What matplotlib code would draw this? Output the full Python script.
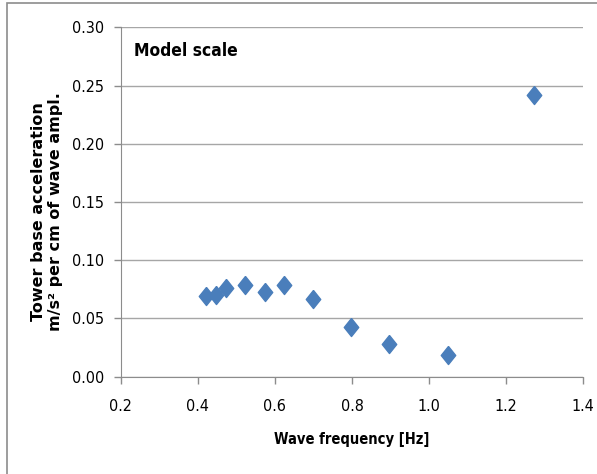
import matplotlib
matplotlib.use("Agg")
import matplotlib.pyplot as plt
from matplotlib.patches import Rectangle

# wave frequency [Hz] vs tower base acceleration per cm wave amplitude
freq = [0.421, 0.447, 0.473, 0.523, 0.574, 0.623, 0.698, 0.797, 0.897, 1.048, 1.272]
accel = [0.069, 0.070, 0.076, 0.079, 0.073, 0.079, 0.067, 0.043, 0.028, 0.019, 0.242]

x_ticks = [0.2, 0.4, 0.6, 0.8, 1.0, 1.2, 1.4]
y_ticks = [0.00, 0.05, 0.10, 0.15, 0.20, 0.25, 0.30]

plt.rcParams['font.family'] = ['DejaVu Sans']
plt.rcParams['font.stretch'] = 'condensed'

fig = plt.figure(figsize=(5.97, 4.74), dpi=100)
ax = fig.add_axes([0.2022, 0.2053, 0.7748, 0.7371])

# outer chart frame (cut off at right and bottom)
fig.patches.append(Rectangle((0.0117, -0.1), 2, 0.9937 + 0.1, transform=fig.transFigure,
                             fill=False, edgecolor='#8c8c8c', linewidth=1.2))

diamond = [(0, 1), (0.8, 0), (0, -1), (-0.8, 0), (0, 1)]
ax.plot(freq, accel, linestyle='none', marker=diamond, markersize=13,
        color='#4a7ebb', markeredgecolor='#4a7ebb')

ax.set_xlim(0.2, 1.4)
ax.set_ylim(0, 0.30)
ax.set_xticks(x_ticks)
ax.set_yticks(y_ticks)
ax.set_xticklabels([f"{v:.1f}" for v in x_ticks])
ax.set_yticklabels([f"{v:.2f}" for v in y_ticks])
ax.tick_params(axis='both', colors='#8c8c8c', labelcolor='black', labelsize=11.5,
               length=5, width=1)
ax.tick_params(axis='x', pad=11)
ax.tick_params(axis='y', pad=7)

ax.grid(True, axis='y', color='#a6a6a6', linewidth=1)
ax.set_axisbelow(True)
for s in ['top', 'right']:
    ax.spines[s].set_visible(False)
for s in ['left', 'bottom']:
    ax.spines[s].set_color('#8c8c8c')

ax.set_xlabel('Wave frequency [Hz]', fontsize=10.5, fontweight='bold', labelpad=13)
fig.text(47 / 597, 1 - 212 / 474, 'Tower base acceleration\nm/s² per cm of wave ampl.',
         rotation=90, ha='center', va='center', fontsize=11.5, fontweight='bold',
         stretch='normal', linespacing=1.1)

ax.text(0.029, 0.931, 'Model scale', transform=ax.transAxes, fontsize=12.5,
        fontweight='bold', va='center', ha='left')

fig.savefig('out.png', dpi=100)
